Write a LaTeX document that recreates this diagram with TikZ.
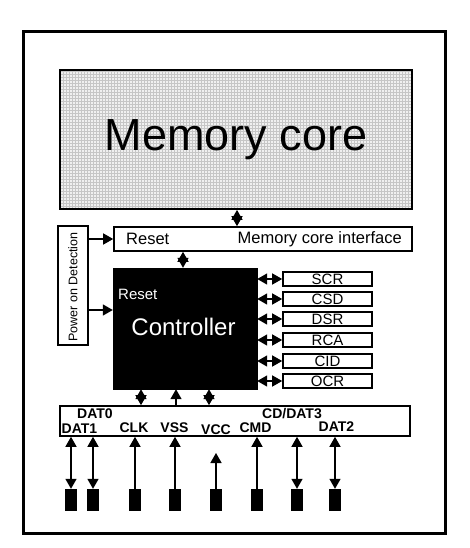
\documentclass[tikz,border=0pt]{standalone}
\usepackage{fontspec}
\setmainfont{Liberation Sans}
\usetikzlibrary{arrows.meta,patterns}
\tikzset{
  box/.style={draw=black,line width=1.6pt,fill=white,inner sep=0pt,minimum width=#1},
  reg/.style={box=89pt,minimum height=14pt,font=\fontsize{15}{15}\selectfont},
  pin/.style={fill=black,draw=none,minimum width=12pt,minimum height=22pt,inner sep=0pt},
  dbl/.style={line width=1.4pt,{Triangle[width=11pt,length=10pt]}-{Triangle[width=11pt,length=10pt]}},
  sgl/.style={line width=1.4pt,-{Triangle[width=11pt,length=10pt]}},
  buslbl/.style={font=\bfseries\fontsize{14}{14}\selectfont,inner sep=0pt}
}
\begin{document}
\begin{tikzpicture}[x=1pt,y=-1pt]
\useasboundingbox (0,0) rectangle (470,548);
\fill[white] (0,0) rectangle (470,548);
\node[draw=black,line width=3pt,minimum width=422pt,minimum height=501pt,inner sep=0pt] (frame) at (234,282.5) {};
% memory core
\node[draw=black,line width=1.8pt,preaction={fill=gray!12},pattern=grid,pattern color=gray!45,
      minimum width=352pt,minimum height=139pt,inner sep=0pt,font=\fontsize{45}{45}\selectfont] (mem) at (236,139.5) {Memory core};
% interface
\node[box=298pt,minimum height=24pt] (intf) at (263,239) {};
\node[anchor=west,inner sep=0pt,font=\fontsize{16.5}{16.5}\selectfont] (intfreset) at (126,239) {Reset};
\node[anchor=east,inner sep=0pt,font=\fontsize{16.5}{16.5}\selectfont] (intflbl) at (402,239) {Memory core interface};
% power on detection
\node[box=30pt,minimum height=119pt] (pwr) at (73,285.5) {};
\node[rotate=90,inner sep=0pt,font=\fontsize{12.5}{12.5}\selectfont] (pwrlbl) at (73,287) {Power on Detection};
% controller
\node[fill=black,draw=black,minimum width=144pt,minimum height=121pt,inner sep=0pt] (ctrl) at (185,328.5) {};
\node[anchor=west,text=white,inner sep=0pt,font=\fontsize{15}{15}\selectfont] (ctrlreset) at (118,294) {Reset};
\node[text=white,inner sep=0pt,font=\fontsize{24}{24}\selectfont] (ctrllbl) at (183.5,327) {Controller};
% registers
\node[reg] (scr) at (327.5,279) {SCR};
\node[reg] (csd) at (327.5,299) {CSD};
\node[reg] (dsr) at (327.5,319) {DSR};
\node[reg] (rca) at (327.5,340) {RCA};
\node[reg] (cid) at (327.5,361) {CID};
\node[reg] (ocr) at (327.5,381) {OCR};
\foreach \r in {scr,csd,dsr,rca,cid,ocr}{
  \draw[dbl] (\r.west -| ctrl.east) -- (\r.west);
}
% bus
\node[box=350pt,minimum height=30pt] (bus) at (235,421) {};
\node[buslbl] (l0) at (95,414) {DAT0};
\node[buslbl] (l3) at (292,414) {CD/DAT3};
\node[buslbl] (l1) at (79.5,429) {DAT1};
\node[buslbl] (lclk) at (134,428) {CLK};
\node[buslbl] (lvss) at (174.5,428) {VSS};
\node[buslbl] (lvcc) at (216,430) {VCC};
\node[buslbl] (lcmd) at (255.5,428) {CMD};
\node[buslbl] (l2) at (336.5,427) {DAT2};
% pins
\node[pin] (p1) at (71,500) {};
\node[pin] (p2) at (93,500) {};
\node[pin] (p3) at (135,500) {};
\node[pin] (p4) at (175,500) {};
\node[pin] (p5) at (216,500) {};
\node[pin] (p6) at (257,500) {};
\node[pin] (p7) at (297,500) {};
\node[pin] (p8) at (335,500) {};
\draw[dbl] (p1.north) -- (p1.north |- bus.south);
\draw[dbl] (p2.north) -- (p2.north |- bus.south);
\draw[sgl] (p3.north) -- (p3.north |- bus.south);
\draw[sgl] (p4.north) -- (p4.north |- bus.south);
\coordinate (vcctip) at (216,453);
\draw[sgl] (p5.north) -- (vcctip);
\draw[sgl] (p6.north) -- (p6.north |- bus.south);
\draw[dbl] (p7.north) -- (p7.north |- bus.south);
\draw[dbl] (p8.north) -- (p8.north |- bus.south);
% controller to bus
\draw[dbl] ([xshift=-44pt]ctrl.south) -- ([xshift=-44pt]ctrl.south |- bus.north);
\draw[sgl] ([xshift=-9pt]ctrl.south |- bus.north) -- ([xshift=-9pt]ctrl.south);
\draw[dbl] ([xshift=24pt]ctrl.south) -- ([xshift=24pt]ctrl.south |- bus.north);
% interface connections
\draw[dbl] ([xshift=1pt]mem.south) -- ([xshift=1pt]mem.south |- intf.north);
\draw[dbl] ([xshift=-2pt]ctrl.north) -- ([xshift=-2pt]ctrl.north |- intf.south);
\draw[sgl] (pwr.east |- intf.west) -- (intf.west);
\draw[sgl] ([yshift=-24.5pt]pwr.east) -- ([yshift=-24.5pt]pwr.east -| ctrl.west);
\end{tikzpicture}
\end{document}
